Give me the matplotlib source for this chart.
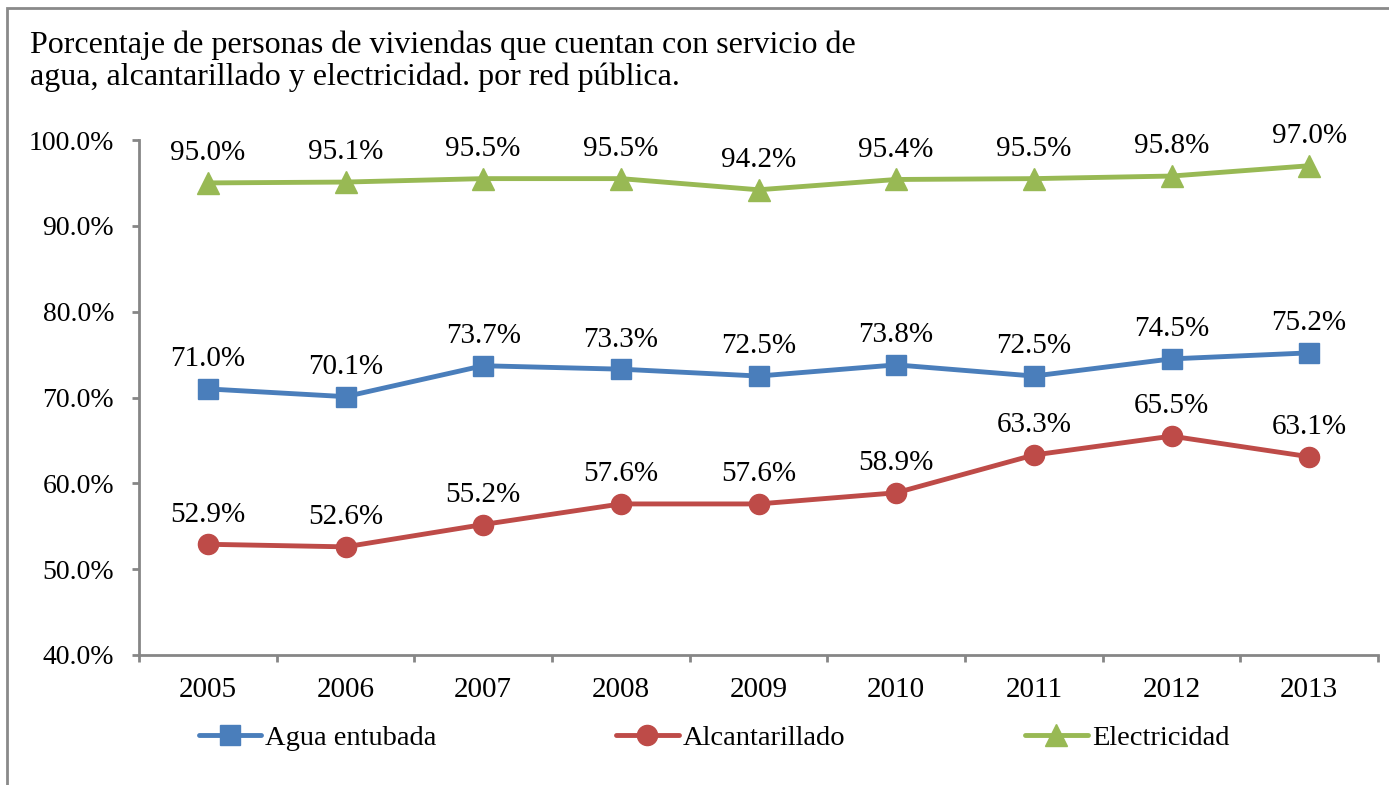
import matplotlib
matplotlib.use("Agg")
import matplotlib.pyplot as plt
from matplotlib.patches import Rectangle

years = ["2005", "2006", "2007", "2008", "2009", "2010", "2011", "2012", "2013"]
agua = [71.0, 70.1, 73.7, 73.3, 72.5, 73.8, 72.5, 74.5, 75.2]
alcantarillado = [52.9, 52.6, 55.2, 57.6, 57.6, 58.9, 63.3, 65.5, 63.1]
electricidad = [95.0, 95.1, 95.5, 95.5, 94.2, 95.4, 95.5, 95.8, 97.0]
yticks = [40, 50, 60, 70, 80, 90, 100]
title_lines = ["Porcentaje de personas de viviendas que cuentan con servicio de",
               "agua, alcantarillado y electricidad. por red pública."]

plt.rcParams['font.family'] = ['Liberation Serif', 'DejaVu Serif']

W, H = 1389, 785
fig = plt.figure(figsize=(W / 100, H / 100), dpi=100)
fig.patch.set_facecolor("white")

# outer border
fig.patches.append(Rectangle((7 / W, -0.01), 1.1, 1 - 8 / H + 0.01, transform=fig.transFigure,
                             fill=False, edgecolor="#8a8a8a", linewidth=2))

ax = fig.add_axes([139 / W, 1 - 655 / H, (1378 - 139) / W, (655 - 140) / H])
x = list(range(len(years)))

series = [
    (agua, "Agua entubada", "#4A7EBB", "s", 14.5),
    (alcantarillado, "Alcantarillado", "#BE4B48", "o", 14.5),
    (electricidad, "Electricidad", "#98B954", "^", 15.5),
]
for vals, name, col, mk, ms in series:
    ax.plot(x, vals, color=col, linewidth=3.5, marker=mk, markersize=ms,
            markeredgecolor=col, label=name, solid_capstyle="round")
    for xi, v in zip(x, vals):
        ax.annotate(f"{v:.1f}%", (xi, v), xytext=(0, 12), textcoords="offset points",
                    ha="center", va="bottom", fontsize=21, color="black")

ax.set_xlim(-0.5, len(years) - 0.5)
ax.set_ylim(40, 100)
ax.set_yticks(yticks)
ax.set_yticklabels([f"{t:.1f}%" for t in yticks], fontsize=20)
ax.set_xticks([i - 0.5 for i in range(len(years) + 1)])
ax.set_xticklabels([])
ax.set_xticks(x, minor=True)
ax.set_xticklabels(years, minor=True, fontsize=21)
ax.tick_params(axis="x", which="minor", length=0, pad=16)
ax.tick_params(axis="x", which="major", length=5, width=2, color="#868686", direction="out")
ax.tick_params(axis="y", length=5, width=2, color="#868686", direction="out", pad=13)

for s in ["top", "right"]:
    ax.spines[s].set_visible(False)
for s in ["left", "bottom"]:
    ax.spines[s].set_color("#868686")
    ax.spines[s].set_linewidth(2)

for yy, line in zip([45, 77], title_lines):
    fig.text(30 / W, 1 - yy / H, line, fontsize=23, va="center", ha="left")

handles, labels = ax.get_legend_handles_labels()
leg = fig.legend(handles, labels, loc="center", bbox_to_anchor=(714 / W, 1 - 738 / H),
                 ncol=3, frameon=False, fontsize=20.5, handlelength=2.2, handletextpad=0.15,
                 columnspacing=6.3)

fig.savefig("out.png", dpi=100, facecolor="white")
